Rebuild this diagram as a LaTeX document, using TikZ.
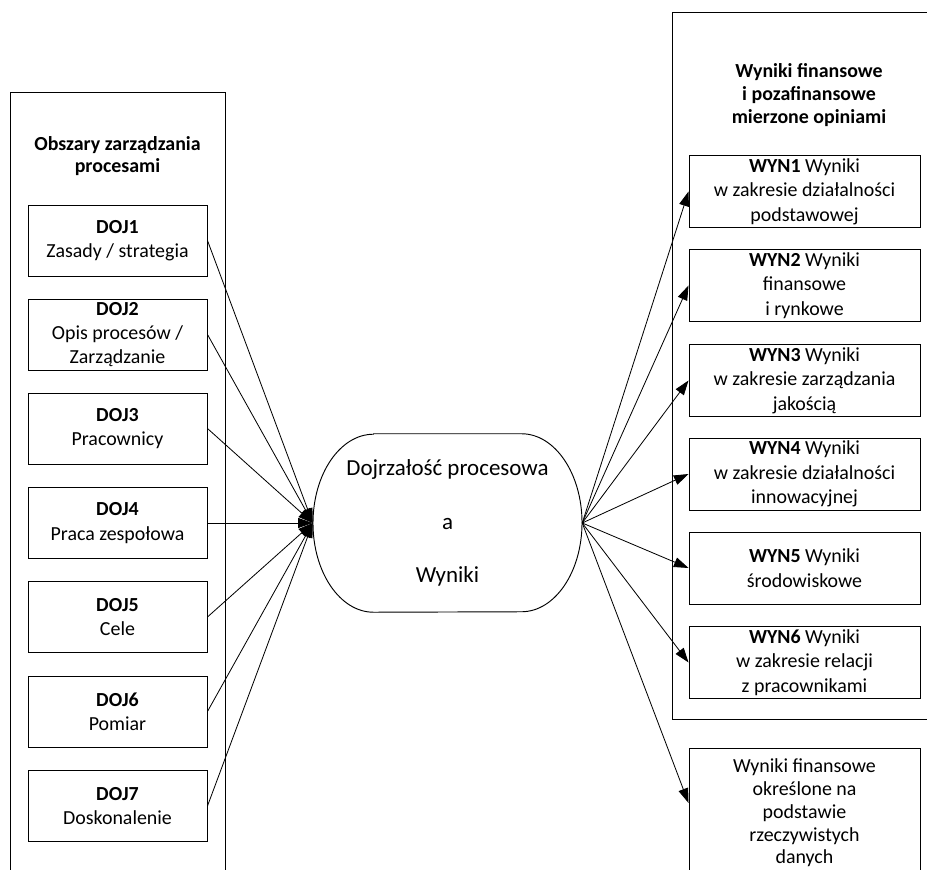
\documentclass[tikz,border=0pt]{standalone}
\usepackage{fontspec}
\setmainfont{Carlito}
\usetikzlibrary{arrows.meta}

\begin{document}
\begin{tikzpicture}[x=0.03cm,y=0.03cm,
  every node/.style={font=\fontsize{17}{19.4}\selectfont},
  area/.style={draw,line width=0.8pt,minimum width=5.37cm,minimum height=2.13cm,align=center,inner sep=1pt,font=\fontsize{17}{20.8}\selectfont},
  result/.style={draw,line width=0.8pt,minimum width=6.93cm,minimum height=2.16cm,align=center,inner sep=1pt,font=\fontsize{17}{20.8}\selectfont},
  frame/.style={draw,line width=0.8pt},
  link/.style={line width=0.7pt,-{Triangle[length=12.5pt,width=8.5pt]}}]
  \clip (0,0) rectangle (927,869);
  \useasboundingbox (0,0) rectangle (927,869);

  \draw[frame] (10,777) rectangle (225,-20);
  \draw[frame] (672,857) rectangle (960,150);

  \node[align=center] (lefttitle) at (117.5,713) {\textbf{Obszary zarządzania}\\\textbf{procesami}};
  \node[align=center] (righttitle) at (809,774) {\textbf{Wyniki finansowe}\\\textbf{i pozafinansowe}\\\textbf{mierzone opiniami}};

  \node[area] (doj1) at (117.5,628.5) {\textbf{DOJ1}\\Zasady / strategia};
  \node[area] (doj2) at (117.5,534.5) {\textbf{DOJ2}\\Opis procesów /\\Zarządzanie};
  \node[area] (doj3) at (117.5,440.5) {\textbf{DOJ3}\\Pracownicy};
  \node[area] (doj4) at (117.5,346) {\textbf{DOJ4}\\Praca zespołowa};
  \node[area] (doj5) at (117.5,252) {\textbf{DOJ5}\\Cele};
  \node[area] (doj6) at (117.5,157.5) {\textbf{DOJ6}\\Pomiar};
  \node[area] (doj7) at (117.5,63) {\textbf{DOJ7}\\Doskonalenie};

  \node[minimum width=8.07cm,minimum height=5.34cm,align=center,font=\fontsize{19.6}{45.5}\selectfont] (mid) at (447.5,346)
    {Dojrzałość procesowa\\a\\Wyniki};
  \draw[line width=0.8pt] ([xshift=-2.22cm]mid.north) -- ([xshift=2.22cm]mid.north)
    arc[start angle=90,end angle=-90,x radius=1.815cm,y radius=2.67cm]
    -- ([xshift=-2.22cm]mid.south)
    arc[start angle=270,end angle=90,x radius=1.815cm,y radius=2.67cm] -- cycle;

  \node[result] (wyn1) at (804.5,677.5) {\textbf{WYN1} Wyniki\\w zakresie działalności\\podstawowej};
  \node[result] (wyn2) at (804.5,583.5) {\textbf{WYN2} Wyniki\\finansowe\\i rynkowe};
  \node[result] (wyn3) at (804.5,488.5) {\textbf{WYN3} Wyniki\\w zakresie zarządzania\\jakością};
  \node[result] (wyn4) at (804.5,395) {\textbf{WYN4} Wyniki\\w zakresie działalności\\innowacyjnej};
  \node[result] (wyn5) at (804.5,301) {\textbf{WYN5} Wyniki\\środowiskowe};
  \node[result] (wyn6) at (804.5,206.5) {\textbf{WYN6} Wyniki\\w zakresie relacji\\z pracownikami};
  \node[result,minimum height=3.9cm,font=\fontsize{17}{19.4}\selectfont] (fin) at (804.5,56) {Wyniki finansowe\\określone na\\podstawie\\rzeczywistych\\danych};

  \draw[link] (doj1.east) -- (mid.west);
  \draw[link] (doj2.east) -- (mid.west);
  \draw[link] (doj3.east) -- (mid.west);
  \draw[link] (doj4.east) -- (mid.west);
  \draw[link] (doj5.east) -- (mid.west);
  \draw[link] (doj6.east) -- (mid.west);
  \draw[link] (doj7.east) -- (mid.west);

  \draw[link] (mid.east) -- (wyn1.west);
  \draw[link] (mid.east) -- (wyn2.west);
  \draw[link] (mid.east) -- (wyn3.west);
  \draw[link] (mid.east) -- (wyn4.west);
  \draw[link] (mid.east) -- (wyn5.west);
  \draw[link] (mid.east) -- (wyn6.west);
  \draw[link] (mid.east) -- ([yshift=0.3cm]fin.west);
\end{tikzpicture}
\end{document}
